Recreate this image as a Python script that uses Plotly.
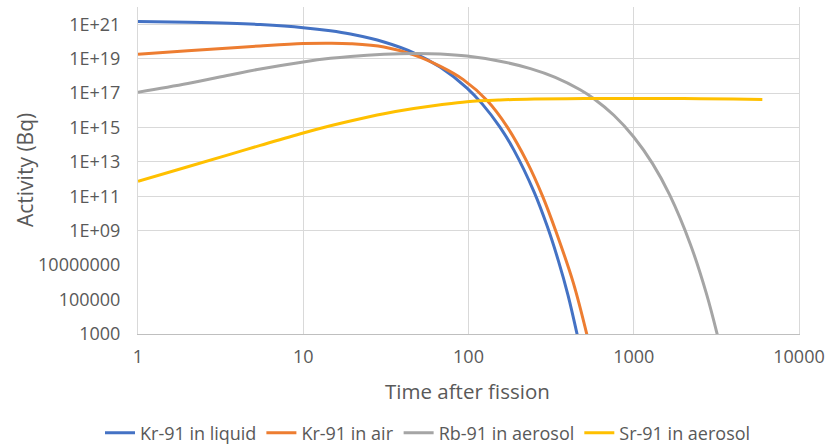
import plotly.graph_objects as go

# ---- data (time in s; activity in Bq given as log10) ----
t_kr_liquid = [1, 2, 3.6, 5.5, 10, 14.6, 19.3, 30.8, 46.6, 67.6, 98, 121, 155, 188, 250, 300, 350, 400, 455]
log_kr_liquid = [21.16, 21.12, 21.06, 20.98, 20.80, 20.62, 20.43, 19.97, 19.34, 18.50, 17.29, 16.37,
                 15.02, 13.70, 11.23, 9.24, 7.25, 5.26, 2.95]

t_kr_air = [1, 2, 3.6, 5.5, 10, 14.6, 19.3, 30.8, 46.6, 67.6, 93, 130, 171, 226, 281, 337, 430, 521]
log_kr_air = [19.26, 19.46, 19.62, 19.74, 19.88, 19.90, 19.87, 19.68, 19.22, 18.55, 17.78, 16.55,
              15.05, 13.0, 11.0, 9.0, 6.0, 2.95]

t_rb_aerosol = [1, 2, 3.6, 5.5, 10, 14.6, 19.3, 30.8, 46.6, 67.6, 98, 155, 237, 335, 474, 574, 758,
                1000, 1300, 1650, 2200, 2750, 3200]
log_rb_aerosol = [17.05, 17.55, 18.05, 18.40, 18.81, 19.02, 19.13, 19.25, 19.30, 19.27, 19.15, 18.85,
                  18.42, 17.91, 17.19, 16.67, 15.71, 14.45, 12.90, 11.08, 8.22, 5.36, 2.98]

t_sr_aerosol = [1, 2, 3.6, 5.5, 10, 14.6, 19.3, 30.8, 46.6, 67.6, 98, 155, 250, 500, 1000, 2000, 4000, 6000]
log_sr_aerosol = [11.87, 12.72, 13.44, 13.96, 14.68, 15.10, 15.38, 15.80, 16.10, 16.32, 16.50, 16.60,
                  16.65, 16.68, 16.69, 16.68, 16.66, 16.63]

series_names = ["Kr-91 in liquid", "Kr-91 in air", "Rb-91 in aerosol", "Sr-91 in aerosol"]
series_colors = ["#4472C4", "#ED7D31", "#A5A5A5", "#FFC000"]

x_tickvals = [1, 10, 100, 1000, 10000]
x_ticktext = ["1", "10", "100", "1000", "10000"]
y_tick_exps = [3, 5, 7, 9, 11, 13, 15, 17, 19, 21]
y_ticktext = ["1000", "100000", "10000000", "1E+09", "1E+11", "1E+13", "1E+15", "1E+17", "1E+19", "1E+21"]
y_grid_exps = [9, 11, 13, 15, 17, 19, 21]   # horizontal gridlines present in the reference

x_title = "Time after fission"
y_title = "Activity (Bq)"

FONT = "'Open Sans', 'Noto Sans', sans-serif"
TXT = "#595959"

fig = go.Figure()
data = [(t_kr_liquid, log_kr_liquid), (t_kr_air, log_kr_air),
        (t_rb_aerosol, log_rb_aerosol), (t_sr_aerosol, log_sr_aerosol)]
for (tx, ly), name, col in zip(data, series_names, series_colors):
    fig.add_trace(go.Scatter(
        x=tx, y=[10.0 ** v for v in ly], name=name, mode="lines",
        line=dict(color=col, width=3, shape="spline", smoothing=1.0),
    ))
# helper (empty) trace so the gridline-only overlay axis is drawn
fig.add_trace(go.Scatter(x=[None], y=[None], yaxis="y2", showlegend=False, hoverinfo="skip"))

W, H = 827, 445
L, R, T, B = 138, 28, 7, 111
pw, ph = W - L - R, H - T - B

fig.update_layout(
    template="none",
    width=W, height=H,
    margin=dict(l=L, r=R, t=T, b=B, pad=0, autoexpand=False),
    paper_bgcolor="white", plot_bgcolor="white",
    font=dict(family=FONT, size=18, color=TXT),
    showlegend=True,
    legend=dict(orientation="h", x=(428 - L) / pw, xanchor="center",
                y=(H - B - 433) / ph, yanchor="middle",
                font=dict(size=18, color=TXT), bgcolor="rgba(0,0,0,0)",
                itemwidth=30, tracegroupgap=0),
    xaxis=dict(type="log", range=[0, 4], tickvals=x_tickvals, ticktext=x_ticktext,
               automargin=False,
               showgrid=True, gridcolor="#D9D9D9", gridwidth=1,
               showline=True, linecolor="#BFBFBF", linewidth=1,
               ticks="", ticklabelstandoff=6, zeroline=False,
               tickfont=dict(size=18, color=TXT)),
    yaxis=dict(type="log", range=[3, 22], tickvals=[10.0 ** e for e in y_tick_exps],
               ticktext=y_ticktext, automargin=False,
               showgrid=False,
               showline=True, mirror=True, linecolor="#D9D9D9", linewidth=1,
               ticks="", ticklabelstandoff=13, zeroline=False,
               tickfont=dict(size=18, color=TXT)),
    yaxis2=dict(type="log", range=[3, 22], overlaying="y", side="left", automargin=False,
                tickvals=[10.0 ** e for e in y_grid_exps], showticklabels=False,
                showgrid=True, gridcolor="#D9D9D9", gridwidth=1,
                showline=False, ticks="", zeroline=False),
    annotations=[
        dict(text=x_title, xref="paper", yref="paper",
             x=(467 - L) / pw, y=(H - B - 391) / ph, xanchor="center", yanchor="middle",
             showarrow=False, font=dict(size=20.5, color=TXT)),
        dict(text=y_title, xref="paper", yref="paper",
             x=(25 - L) / pw, y=(H - B - 170) / ph, xanchor="center", yanchor="middle",
             textangle=-90, showarrow=False, font=dict(size=21, color=TXT)),
    ],
)

fig.write_html("out.html", config={"displayModeBar": False},
               post_script="document.body.style.margin='0';")
